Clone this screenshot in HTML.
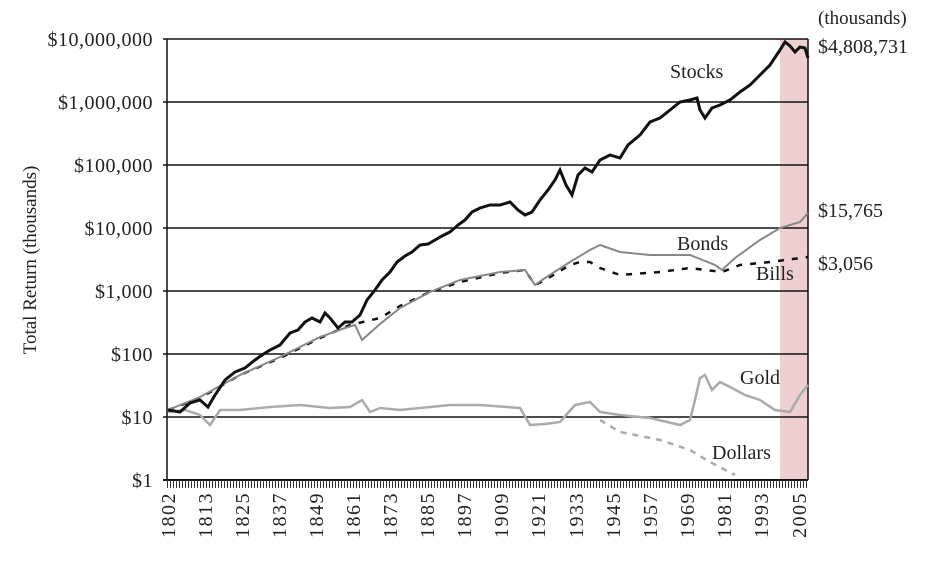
<!DOCTYPE html>
<html><head><meta charset="utf-8"><style>
body{margin:0;background:#fff;}
svg text{font-family:"Liberation Serif",serif;fill:#222;}
</style></head><body>
<svg width="934" height="569" viewBox="0 0 934 569" xmlns="http://www.w3.org/2000/svg">
<rect x="780" y="39" width="28" height="441" fill="#efd0d0"/>
<g stroke="#111" stroke-width="1.5">
<line x1="163" y1="39" x2="808" y2="39"/><line x1="163" y1="102" x2="808" y2="102"/>
<line x1="163" y1="165" x2="808" y2="165"/><line x1="163" y1="228" x2="808" y2="228"/>
<line x1="163" y1="291" x2="808" y2="291"/><line x1="163" y1="354" x2="808" y2="354"/>
<line x1="163" y1="417" x2="808" y2="417"/><line x1="163" y1="480" x2="808" y2="480" stroke-width="2"/>
<line x1="167" y1="39" x2="167" y2="480"/><line x1="808" y1="39" x2="808" y2="480"/>
</g>
<line x1="167" y1="484" x2="808" y2="484" stroke="#333" stroke-width="8" stroke-dasharray="1 2"/>
<g font-size="20" text-anchor="end" letter-spacing="0.5">
<text x="153" y="46">$10,000,000</text><text x="153" y="109">$1,000,000</text>
<text x="153" y="172">$100,000</text><text x="153" y="235">$10,000</text>
<text x="153" y="298">$1,000</text><text x="153" y="361">$100</text>
<text x="153" y="424">$10</text><text x="153" y="487">$1</text>
</g>
<text transform="translate(36,260) rotate(-90)" font-size="19" text-anchor="middle">Total Return (thousands)</text>
<g font-size="20" text-anchor="end" letter-spacing="1.5">
<text transform="translate(175,492) rotate(-90)">1802</text>
<text transform="translate(212,492) rotate(-90)">1813</text>
<text transform="translate(249,492) rotate(-90)">1825</text>
<text transform="translate(286,492) rotate(-90)">1837</text>
<text transform="translate(323,492) rotate(-90)">1849</text>
<text transform="translate(360,492) rotate(-90)">1861</text>
<text transform="translate(397,492) rotate(-90)">1873</text>
<text transform="translate(434,492) rotate(-90)">1885</text>
<text transform="translate(471,492) rotate(-90)">1897</text>
<text transform="translate(508,492) rotate(-90)">1909</text>
<text transform="translate(545,492) rotate(-90)">1921</text>
<text transform="translate(583,492) rotate(-90)">1933</text>
<text transform="translate(620,492) rotate(-90)">1945</text>
<text transform="translate(657,492) rotate(-90)">1957</text>
<text transform="translate(694,492) rotate(-90)">1969</text>
<text transform="translate(731,492) rotate(-90)">1981</text>
<text transform="translate(768,492) rotate(-90)">1993</text>
<text transform="translate(806,492) rotate(-90)">2005</text>
</g>
<polyline fill="none" stroke="#aaa" stroke-width="2.5" points="168,412 185,410 200,415 210,425 220,410 240,410 270,407 300,405 330,408 350,407 362,400 370,412 380,408 400,410 430,407 450,405 480,405 520,408 530,425 545,424 560,422 575,405 590,402 600,412 620,415 650,418 680,425 690,420 695,400 700,378 705,375 712,390 720,382 730,387 745,395 760,400 775,410 790,412 800,395 808,385"/>
<polyline fill="none" stroke="#aaa" stroke-width="2.5" stroke-dasharray="6 6" points="600,420 620,432 640,436 660,440 690,450 710,462 735,475"/>
<polyline fill="none" stroke="#111" stroke-width="2.5" stroke-dasharray="6 8" points="168,410 200,398 240,375 280,358 320,338 350,325 380,318 400,306 430,292 460,282 500,273 525,270 535,285 545,280 570,265 580,262 590,262 600,268 620,275 660,272 690,268 722,272 740,265 770,262 808,257"/>
<polyline fill="none" stroke="#888" stroke-width="2" points="168,410 200,397 240,375 280,357 320,337 345,328 355,325 362,340 380,324 400,308 430,292 460,280 500,272 525,270 535,285 545,278 570,262 590,250 600,245 620,252 650,255 690,255 715,265 722,270 735,258 760,240 780,228 800,222 808,213"/>
<polyline fill="none" stroke="#111" stroke-width="3" points="168,410 180,412 190,403 200,400 208,407 215,395 225,380 235,372 245,368 255,360 262,355 270,350 280,345 290,333 298,330 305,322 312,318 320,322 325,313 330,318 338,328 345,322 352,322 360,315 367,300 375,290 382,280 390,272 397,262 405,256 412,252 420,245 428,244 435,240 442,236 450,232 458,225 465,220 472,212 480,208 490,205 500,205 510,202 518,210 525,215 532,212 540,200 548,190 555,180 560,170 566,185 572,195 578,175 585,168 592,172 600,160 610,155 620,158 628,145 640,135 650,122 660,118 670,110 680,102 690,100 697,98 700,110 705,118 712,108 720,105 730,100 740,92 750,85 760,75 770,65 780,50 785,42 790,46 795,52 800,47 805,48 808,58"/>
<g font-size="20">
<text x="670" y="78">Stocks</text><text x="677" y="250">Bonds</text>
<text x="756" y="280">Bills</text><text x="740" y="384">Gold</text>
<text x="712" y="459">Dollars</text>
<text x="818" y="24" font-size="19">(thousands)</text>
<text x="818" y="53">$4,808,731</text>
<text x="818" y="217">$15,765</text>
<text x="818" y="270">$3,056</text>
</g>
</svg>
</body></html>
